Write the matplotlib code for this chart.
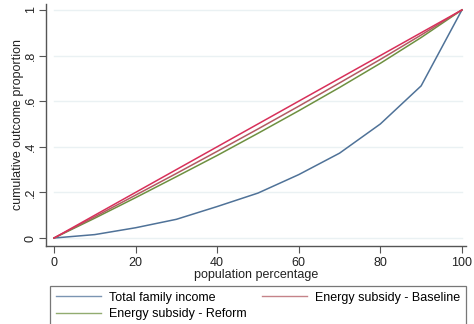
"""Lorenz-style curves: income vs. energy subsidy under baseline and reform."""

import matplotlib

matplotlib.use("Agg")
import matplotlib.pyplot as plt

plt.rcParams["font.family"] = ["Liberation Sans", "DejaVu Sans"]

pop_pct = [0, 10, 20, 30, 40, 50, 60, 70, 80, 90, 100]
equality = [0, 0.1, 0.2, 0.3, 0.4, 0.5, 0.6, 0.7, 0.8, 0.9, 1.0]
income = [0, 0.015, 0.045, 0.082, 0.138, 0.197, 0.278, 0.372, 0.5, 0.667, 1.0]
baseline = [0, 0.093, 0.188, 0.283, 0.380, 0.478, 0.578, 0.680, 0.783, 0.890, 1.0]
reform = [0, 0.087, 0.177, 0.269, 0.362, 0.459, 0.558, 0.660, 0.766, 0.879, 1.0]

y_ticks = [0, 0.2, 0.4, 0.6, 0.8, 1.0]
y_tick_labels = ["0", ".2", ".4", ".6", ".8", "1"]
x_ticks = [0, 20, 40, 60, 80, 100]

W, H = 474, 324
FS = 9
fig = plt.figure(figsize=(W / 100, H / 100), dpi=100)
fig.patch.set_facecolor("white")

# axes box in pixel terms: left spine x=46, bottom spine y=246
left, right, top, bottom = 46, 466, 4, 246
ax = fig.add_axes([left / W, 1 - bottom / H, (right - left) / W, (bottom - top) / H])

ax.set_xlim(-1.96, 101.0)
ax.set_ylim(-0.035, 1.026)

for y in y_ticks:
    ax.plot([0, 100], [y, y], color="#EAF1F3", lw=1.0, zorder=0)

ax.plot(pop_pct, income, color="#4F7298", lw=1.1, label="Total family income")
ax.plot(pop_pct, reform, color="#6E9040", lw=1.1, label="Energy subsidy - Reform")
ax.plot(pop_pct, baseline, color="#B25A62", lw=1.1, label="Energy subsidy - Baseline")
ax.plot(pop_pct, equality, color="#D8305A", lw=1.1)

for side in ("top", "right"):
    ax.spines[side].set_visible(False)
for side in ("left", "bottom"):
    ax.spines[side].set_color("#555555")
    ax.spines[side].set_linewidth(1.0)

ax.set_xticks(x_ticks)
ax.set_xticklabels([str(t) for t in x_ticks])
ax.set_yticks(y_ticks)
ax.set_yticklabels(y_tick_labels, rotation=90, va="center")
ax.tick_params(axis="both", length=5, width=0.8, color="#555555", labelsize=FS,
               labelcolor="#222222", pad=3)
ax.tick_params(axis="y", pad=1.5)

ax.set_xlabel("population percentage", fontsize=FS, color="#222222", labelpad=0)
ax.set_ylabel("cumulative outcome proportion", fontsize=FS, color="#222222", labelpad=1)
ax.yaxis.set_label_coords(-0.052, 0.5)

# income and reform stack in the left column, baseline sits on the right
leg = fig.legend(
    *ax.get_legend_handles_labels(),
    ncol=2,
    loc="upper left",
    bbox_to_anchor=(50 / W, 1 - 286 / H, (466 - 50) / W, 0.0),
    mode="expand",
    frameon=True,
    fancybox=False,
    fontsize=FS,
    handlelength=3.6,
    handletextpad=0.7,
    borderpad=0.45,
    labelspacing=0.35,
    columnspacing=2.0,
    borderaxespad=0,
)
leg.get_frame().set_edgecolor("#555555")
leg.get_frame().set_linewidth(0.9)
for line in leg.get_lines():
    line.set_alpha(0.75)
    line.set_linewidth(1.0)

fig.savefig("out.png", dpi=100, facecolor="white")
